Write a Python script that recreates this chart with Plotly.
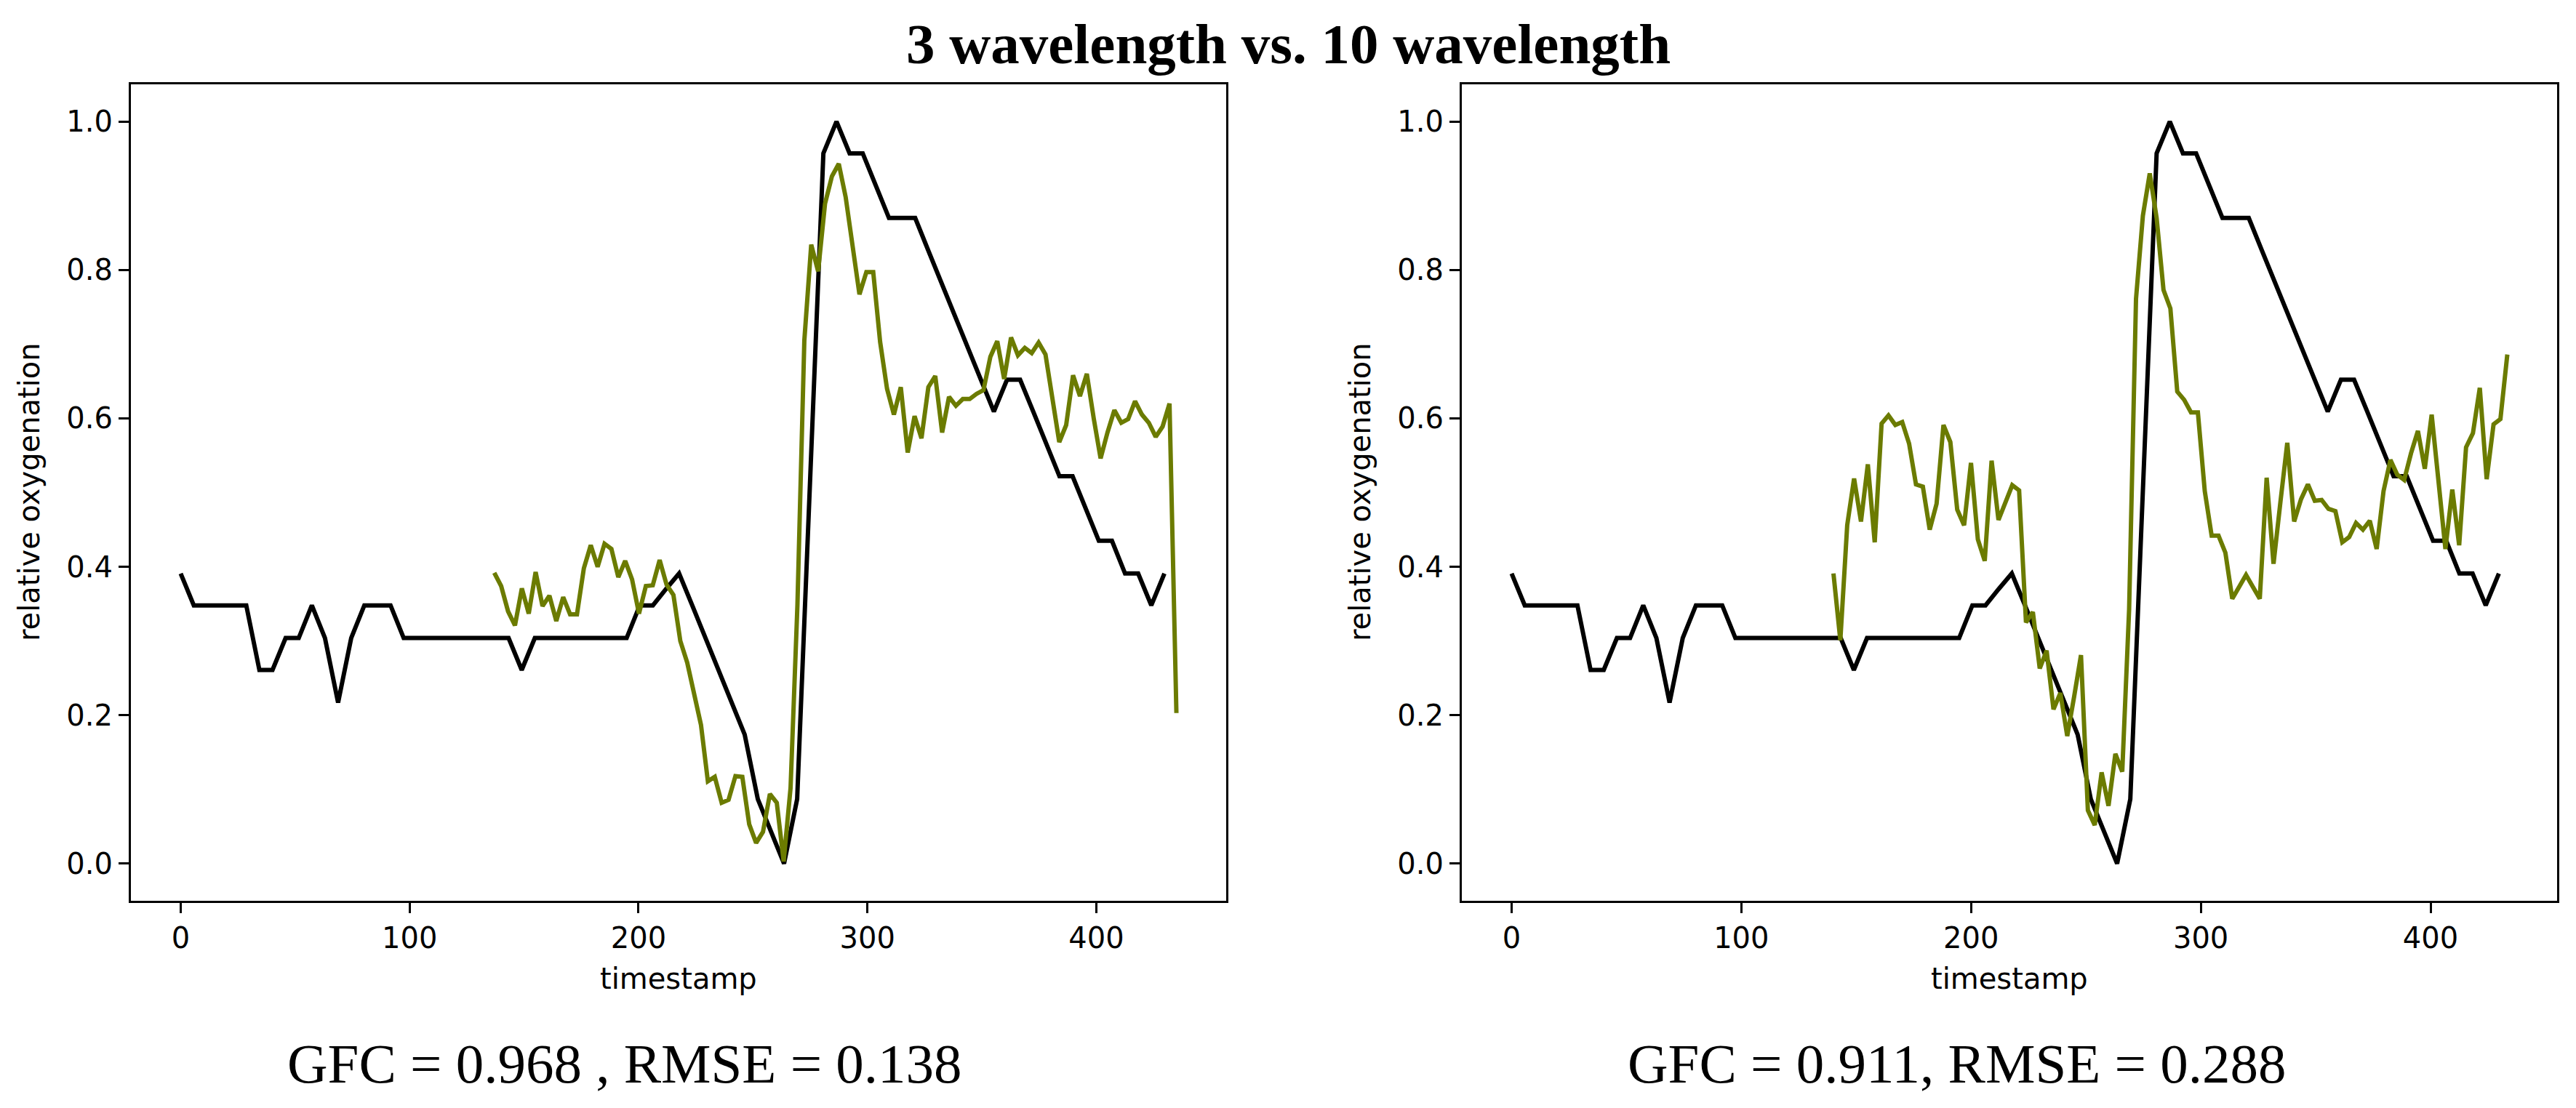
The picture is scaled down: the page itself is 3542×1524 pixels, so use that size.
import plotly.graph_objects as go

# ---------------- data ----------------
# ground truth (black), evenly sampled timestamps
gt_t0 = 0.0
gt_dt = 5.73
gt_values = [
    0.391, 0.348, 0.348, 0.348, 0.348, 0.348, 0.261, 0.261, 0.304, 0.304,
    0.348, 0.304, 0.217, 0.304, 0.348, 0.348, 0.348, 0.304, 0.304, 0.304,
    0.304, 0.304, 0.304, 0.304, 0.304, 0.304, 0.261, 0.304, 0.304, 0.304,
    0.304, 0.304, 0.304, 0.304, 0.304, 0.348, 0.348, 0.370, 0.391, 0.348,
    0.304, 0.261, 0.217, 0.174, 0.087, 0.043, 0.000, 0.087, 0.522, 0.957,
    1.000, 0.957, 0.957, 0.913, 0.870, 0.870, 0.870, 0.826, 0.783, 0.739,
    0.696, 0.652, 0.609, 0.652, 0.652, 0.609, 0.565, 0.522, 0.522, 0.478,
    0.435, 0.435, 0.391, 0.391, 0.348, 0.391,
]

# 3-wavelength prediction (left, olive)
left_t0 = 137.0
left_dt = 3.01
left_pred = [
    0.392, 0.374, 0.340, 0.321, 0.371, 0.337, 0.393, 0.347, 0.361, 0.327,
    0.359, 0.336, 0.336, 0.398, 0.429, 0.400, 0.431, 0.424, 0.386, 0.408,
    0.383, 0.337, 0.374, 0.375, 0.409, 0.376, 0.362, 0.300, 0.271, 0.230,
    0.187, 0.111, 0.117, 0.082, 0.086, 0.118, 0.117, 0.053, 0.028, 0.043,
    0.094, 0.082, 0.003, 0.102, 0.349, 0.705, 0.834, 0.798, 0.889, 0.926,
    0.943, 0.898, 0.829, 0.767, 0.797, 0.797, 0.703, 0.640, 0.605, 0.642,
    0.554, 0.603, 0.573, 0.642, 0.657, 0.581, 0.629, 0.617, 0.626, 0.626,
    0.633, 0.638, 0.683, 0.704, 0.653, 0.709, 0.685, 0.695, 0.688, 0.702,
    0.686, 0.624, 0.568, 0.591, 0.658, 0.630, 0.660, 0.600, 0.546, 0.581,
    0.611, 0.594, 0.599, 0.623, 0.605, 0.594, 0.575, 0.589, 0.620, 0.203,
]

# 10-wavelength prediction (right, olive)
right_t0 = 140.1
right_dt = 2.993
right_pred = [
    0.391, 0.301, 0.456, 0.519, 0.461, 0.538, 0.433, 0.593, 0.604, 0.591,
    0.595, 0.566, 0.511, 0.508, 0.450, 0.485, 0.591, 0.568, 0.477, 0.456,
    0.540, 0.437, 0.408, 0.543, 0.463, 0.487, 0.510, 0.503, 0.325, 0.339,
    0.263, 0.287, 0.208, 0.230, 0.172, 0.225, 0.281, 0.072, 0.052, 0.123,
    0.078, 0.148, 0.124, 0.343, 0.761, 0.873, 0.930, 0.870, 0.773, 0.748,
    0.636, 0.625, 0.608, 0.608, 0.502, 0.442, 0.442, 0.419, 0.357, 0.373,
    0.389, 0.373, 0.357, 0.520, 0.404, 0.487, 0.567, 0.461, 0.491, 0.511,
    0.489, 0.490, 0.478, 0.475, 0.433, 0.440, 0.459, 0.450, 0.462, 0.424,
    0.502, 0.544, 0.524, 0.517, 0.553, 0.583, 0.532, 0.605, 0.518, 0.424,
    0.504, 0.429, 0.561, 0.580, 0.641, 0.518, 0.592, 0.599, 0.686,
]

title_text = "3 wavelength vs. 10 wavelength"
left_note = "GFC = 0.968 , RMSE = 0.138"
right_note = "GFC = 0.911, RMSE = 0.288"
x_label = "timestamp"
y_label = "relative oxygenation"
x_ticks = [0, 100, 200, 300, 400]
y_ticks = [0.0, 0.2, 0.4, 0.6, 0.8, 1.0]

# ---------------- build ----------------
gt_x = [gt_t0 + i * gt_dt for i in range(len(gt_values))]
left_x = [left_t0 + i * left_dt for i in range(len(left_pred))]
right_x = [right_t0 + i * right_dt for i in range(len(right_pred))]

W, H = 3542, 1524
OLIVE = "#6b7b00"
LW = 6

def pad_range(vals, frac=0.05):
    lo, hi = min(vals), max(vals)
    p = (hi - lo) * frac
    return [lo - p, hi + p]

fig = go.Figure()
fig.add_trace(go.Scatter(x=gt_x, y=gt_values, mode="lines", line=dict(color="black", width=LW),
                         xaxis="x", yaxis="y", showlegend=False, name="ground truth"))
fig.add_trace(go.Scatter(x=left_x, y=left_pred, mode="lines", line=dict(color=OLIVE, width=LW),
                         xaxis="x", yaxis="y", showlegend=False, name="3 wavelength"))
fig.add_trace(go.Scatter(x=gt_x, y=gt_values, mode="lines", line=dict(color="black", width=LW),
                         xaxis="x2", yaxis="y2", showlegend=False, name="ground truth"))
fig.add_trace(go.Scatter(x=right_x, y=right_pred, mode="lines", line=dict(color=OLIVE, width=LW),
                         xaxis="x2", yaxis="y2", showlegend=False, name="10 wavelength"))

tickfont = dict(family="DejaVu Sans", size=40, color="black")
common = dict(showline=True, mirror=True, linecolor="black", linewidth=3.2,
              ticks="outside", ticklen=14, tickwidth=3.2, tickcolor="black",
              tickfont=tickfont, showgrid=False, zeroline=False)

ydom = [1 - 1239 / H, 1 - 116 / H]

fig.update_layout(
    width=W, height=H,
    margin=dict(l=0, r=0, t=0, b=0),
    paper_bgcolor="white", plot_bgcolor="white",
    xaxis=dict(domain=[180 / W, 1686 / W], range=pad_range(gt_x + left_x), anchor="y",
               tickvals=x_ticks, **common),
    yaxis=dict(domain=ydom, range=[-0.05, 1.05], anchor="x",
               tickvals=y_ticks, ticktext=[f"{v:.1f}" for v in y_ticks], **common),
    xaxis2=dict(domain=[2010 / W, 3516 / W], range=pad_range(gt_x + right_x), anchor="y2",
                tickvals=x_ticks, **common),
    yaxis2=dict(domain=ydom, range=[-0.05, 1.05], anchor="x2",
                tickvals=y_ticks, ticktext=[f"{v:.1f}" for v in y_ticks], **common),
)

ann = []
ann.append(dict(text="<b>" + title_text + "</b>", x=0.5, y=1 - 60 / H, xref="paper", yref="paper",
                xanchor="center", yanchor="middle", showarrow=False,
                font=dict(family="Liberation Serif", size=79, color="black")))
ann.append(dict(text=left_note, x=859 / W, y=1 - 1463 / H, xref="paper", yref="paper",
                xanchor="center", yanchor="middle", showarrow=False,
                font=dict(family="Liberation Serif", size=77, color="black")))
ann.append(dict(text=right_note, x=2690 / W, y=1 - 1463 / H, xref="paper", yref="paper",
                xanchor="center", yanchor="middle", showarrow=False,
                font=dict(family="Liberation Serif", size=77, color="black")))
labfont = dict(family="DejaVu Sans", size=40, color="black")
for cx in (933, 2763):
    ann.append(dict(text=x_label, x=cx / W, y=1 - 1346 / H, xref="paper", yref="paper",
                    xanchor="center", yanchor="middle", showarrow=False, font=labfont))
for cx in (40, 1870):
    ann.append(dict(text=y_label, x=cx / W, y=1 - 677 / H, xref="paper", yref="paper",
                    xanchor="center", yanchor="middle", showarrow=False, textangle=-90, font=labfont))
fig.update_layout(annotations=ann)

fig.write_html("out.html", config={"displayModeBar": False},
               post_script="document.body.style.margin='0px';document.body.style.overflow='hidden';")
